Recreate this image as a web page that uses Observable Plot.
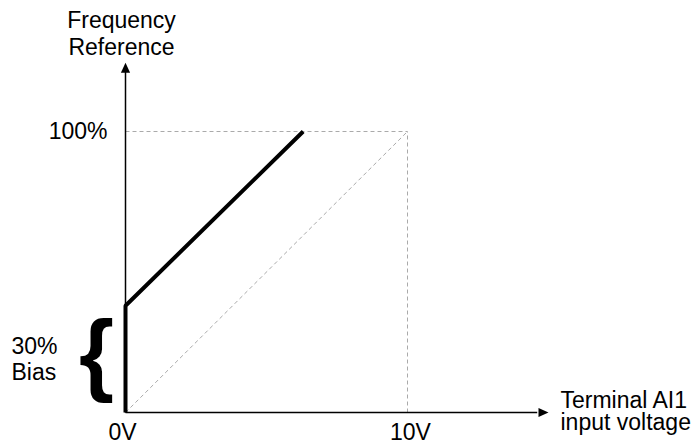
<!DOCTYPE html>
<html>
<head>
<meta charset="utf-8">
<script src="https://cdn.jsdelivr.net/npm/d3@7"></script>
<script src="https://cdn.jsdelivr.net/npm/@observablehq/plot@0.6"></script>
<style>
  html, body { margin: 0; padding: 0; background: #fff; }
  svg { display: block; }
</style>
</head>
<body>
<div id="chart"></div>
<script>
// ---- data ----
const voltage   = [0, 0, 6.3];        // V, thick response line
const frequency = [0, 38, 100];       // %, thick response line
const biasLabel = "30%\nBias";
const xTickValues = [0, 10];
const xTickLabels = ["0V", "10V"];
const yTickValues = [100];
const yTickLabels = ["100%"];
const xAxisEnd = 15;     // arrow tip on the voltage axis
const yAxisEnd = 124.5;  // arrow tip on the frequency axis
const xTitle = "Terminal AI1\ninput voltage";
const yTitle = "Frequency\nReference";

const response = voltage.map((v, i) => ({v, f: frequency[i]}));
const guides = [
  {x1: 0, y1: 100, x2: 10, y2: 100},
  {x1: 10, y1: 0, x2: 10, y2: 100},
  {x1: 0, y1: 0, x2: 10, y2: 100}
];
const axes = [
  {x1: 0, y1: 0, x2: xAxisEnd - 0.4, y2: 0},
  {x1: 0, y1: 0, x2: 0, y2: yAxisEnd - 3}
];
const heads = [
  {x: xAxisEnd, y: 0, rot: 90},
  {x: 0, y: yAxisEnd, rot: 0}
];
const arrowSymbol = {
  draw(ctx) { ctx.moveTo(0, 0); ctx.lineTo(-4.6, 10); ctx.lineTo(4.6, 10); ctx.closePath(); }
};
const FONT = "Liberation Sans, Arial, Helvetica, sans-serif";
const FS = 23;

const chart = Plot.plot({
  width: 697,
  height: 445,
  marginLeft: 125,
  marginRight: 290,
  marginTop: 131,
  marginBottom: 33,
  style: {fontFamily: FONT, background: "#fff", overflow: "visible"},
  x: {domain: [0, 10], axis: null},
  y: {domain: [0, 100], axis: null},
  marks: [
    Plot.link(guides, {x1: "x1", y1: "y1", x2: "x2", y2: "y2", stroke: "#aaaaaa", strokeWidth: 1, strokeDasharray: "4,3"}),
    Plot.link(axes, {x1: "x1", y1: "y1", x2: "x2", y2: "y2", stroke: "#000", strokeWidth: 1.5}),
    Plot.dot(heads, {x: "x", y: "y", rotate: "rot", symbol: arrowSymbol, fill: "#000", stroke: null}),
    Plot.line(response, {x: "v", y: "f", stroke: "#000", strokeWidth: 4, strokeLinejoin: "miter", strokeLinecap: "butt"}),
    Plot.text([xTickValues[0]], {x: d => d, y: 0, text: () => xTickLabels[0], dx: -3, dy: 20, fontSize: FS, fill: "#000"}),
    Plot.text([xTickValues[1]], {x: d => d, y: 0, text: () => xTickLabels[1], dx: 3, dy: 20, fontSize: FS, fill: "#000"}),
    Plot.text(yTickValues, {x: 0, y: d => d, text: (d, i) => yTickLabels[i], dx: -18, textAnchor: "end", fontSize: FS, fill: "#000"}),
    Plot.text([yTitle], {x: 0, y: yAxisEnd, text: d => d, dx: -4, dy: -8, lineAnchor: "bottom", lineHeight: 1.17, fontSize: FS, fill: "#000"}),
    Plot.text([xTitle], {x: xAxisEnd, y: 0, text: d => d, dx: 12, dy: -1, textAnchor: "start", lineAnchor: "middle", lineHeight: 0.96, fontSize: FS, fill: "#000"}),
    Plot.text([frequency[1] / 2], {x: 0, y: d => d, text: () => "{", dx: -29, dy: -4, fontSize: 90, fontWeight: "bold", fill: "#000"}),
    Plot.text([frequency[1] / 2], {x: 0, y: d => d, text: () => biasLabel, dx: -114, textAnchor: "start", lineHeight: 1.13, fontSize: FS, fill: "#000"})
  ]
});
document.getElementById("chart").appendChild(chart);
</script>
</body>
</html>
